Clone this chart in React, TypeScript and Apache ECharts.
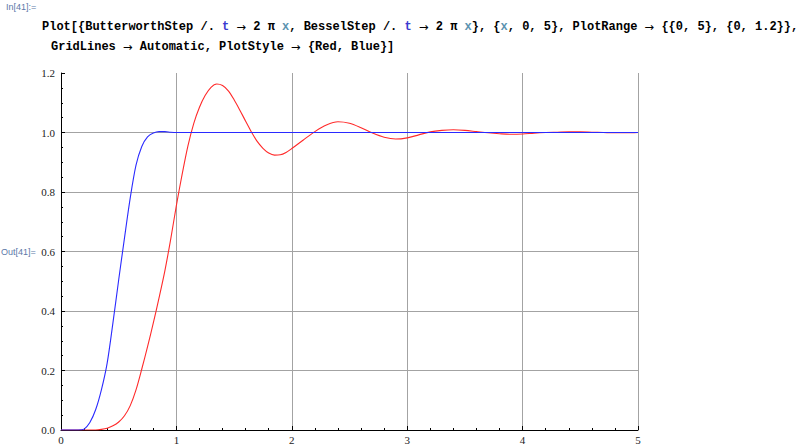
import React, { useEffect, useRef } from "react";
import * as echarts from "echarts";

// ButterworthStep (red)
const redX = [0, 0.2, 0.3, 0.35, 0.4, 0.45, 0.5, 0.55, 0.6, 0.65, 0.7, 0.75, 0.8, 0.85, 0.9, 0.95, 1.0, 1.05, 1.1, 1.15, 1.2, 1.25, 1.3, 1.35, 1.4, 1.45, 1.5, 1.55, 1.6, 1.65, 1.7, 1.75, 1.8, 1.85, 1.9, 1.95, 2.0, 2.1, 2.2, 2.3, 2.4, 2.5, 2.6, 2.7, 2.8, 2.9, 3.0, 3.1, 3.2, 3.3, 3.4, 3.5, 3.6, 3.7, 3.8, 3.9, 4.0, 4.1, 4.2, 4.3, 4.4, 4.5, 4.6, 4.7, 4.8, 4.9, 5.0];
const redY = [0, 0, 0, 0.002, 0.006, 0.014, 0.027, 0.048, 0.082, 0.135, 0.205, 0.28, 0.36, 0.445, 0.535, 0.64, 0.755, 0.86, 0.955, 1.03, 1.085, 1.125, 1.152, 1.163, 1.158, 1.14, 1.11, 1.075, 1.038, 1.002, 0.97, 0.947, 0.931, 0.924, 0.925, 0.933, 0.946, 0.975, 1.003, 1.025, 1.036, 1.031, 1.016, 0.998, 0.984, 0.978, 0.982, 0.992, 1.002, 1.007, 1.009, 1.007, 1.003, 0.999, 0.996, 0.994, 0.995, 0.998, 1.0, 1.001, 1.002, 1.002, 1.001, 1.0, 0.999, 0.999, 1.0];

// BesselStep (blue)
const blueX = [0, 0.1, 0.15, 0.2, 0.25, 0.3, 0.35, 0.4, 0.45, 0.5, 0.55, 0.6, 0.65, 0.7, 0.75, 0.8, 0.85, 0.9, 0.95, 1.0, 1.5, 2.0, 2.5, 3.0, 3.5, 4.0, 4.5, 5.0];
const blueY = [0, 0, 0, 0.003, 0.025, 0.068, 0.135, 0.225, 0.36, 0.505, 0.645, 0.78, 0.89, 0.953, 0.985, 0.998, 1.003, 1.003, 1.001, 1.0, 1.0, 1.0, 1.0, 1.0, 1.0, 1.0, 1.0, 1.0];

const xTickLabels = ["0", "1", "2", "3", "4", "5"];
const yTickLabels = ["0.0", "0.2", "0.4", "0.6", "0.8", "1.0", "1.2"];

const inLabel = "In[41]:=";
const outLabel = "Out[41]=";
const codeLine1 = "Plot[{ButterworthStep /. {t|t} {a|→} 2 π {v|x}, BesselStep /. {t|t} {a|→} 2 π {v|x}}, {{v|x}, 0, 5}, PlotRange {a|→} {{0, 5}, {0, 1.2}},";
const codeLine2 = "GridLines {a|→} Automatic, PlotStyle {a|→} {Red, Blue}]";

const mono = "'Liberation Mono', 'DejaVu Sans Mono', monospace";
const serif = "'Liberation Serif', 'DejaVu Serif', serif";
const sans = "Arial, 'Liberation Sans', sans-serif";

const richStyles = {
  t: { fill: "#3a3ad0", fontFamily: mono, fontWeight: "bold", fontSize: 12 },
  v: { fill: "#5c93b0", fontFamily: mono, fontWeight: "bold", fontSize: 12 },
  a: { fill: "#000", fontFamily: "'DejaVu Sans', sans-serif", fontWeight: "normal", fontSize: 11.5 },
};

export default function App() {
  const ref = useRef<HTMLDivElement>(null);
  useEffect(() => {
    if (!ref.current) return;
    const chart = echarts.init(ref.current, null, { renderer: "svg" });
    const option = {
      animation: false,
      backgroundColor: "#ffffff",
      grid: { left: 61, right: 162, top: 73, bottom: 17, containLabel: false },
      xAxis: {
        type: "value",
        min: 0,
        max: 5,
        interval: 1,
        axisLine: { show: true, onZero: false, lineStyle: { color: "#000", width: 1 } },
        axisTick: { show: true, inside: true, length: 4, lineStyle: { color: "#000" } },
        minorTick: { show: true, splitNumber: 5, length: 2, lineStyle: { color: "#000" } },
        axisLabel: {
          color: "#222",
          fontFamily: serif,
          fontSize: 11,
          margin: 4,
          formatter: (v: number) => xTickLabels[Math.round(v)] ?? "",
        },
        splitLine: { show: true, showMinLine: false, lineStyle: { color: "#a3a3a3", width: 1 } },
      },
      yAxis: {
        type: "value",
        min: 0,
        max: 1.2,
        interval: 0.2,
        axisLine: { show: true, onZero: false, lineStyle: { color: "#000", width: 1 } },
        axisTick: { show: true, inside: true, length: 4, lineStyle: { color: "#000" } },
        minorTick: { show: true, splitNumber: 4, length: 2, lineStyle: { color: "#000" } },
        axisLabel: {
          color: "#222",
          fontFamily: serif,
          fontSize: 11,
          margin: 6,
          formatter: (v: number) => yTickLabels[Math.round(v / 0.2)] ?? "",
        },
        splitLine: { show: true, showMinLine: false, showMaxLine: false, lineStyle: { color: "#a3a3a3", width: 1 } },
      },
      series: [
        {
          name: "ButterworthStep",
          type: "line",
          data: redX.map((x, i) => [x, redY[i]]),
          showSymbol: false,
          smooth: 0.3,
          lineStyle: { color: "#ff2a2a", width: 1.1 },
          itemStyle: { color: "#ff2a2a" },
        },
        {
          name: "BesselStep",
          type: "line",
          data: blueX.map((x, i) => [x, blueY[i]]),
          showSymbol: false,
          smooth: 0.3,
          lineStyle: { color: "#2a2aff", width: 1.1 },
          itemStyle: { color: "#2a2aff" },
        },
      ],
      graphic: [
        {
          type: "text",
          left: 6,
          top: 2,
          style: { text: inLabel, fill: "#5b78a8", fontFamily: sans, fontSize: 9 },
        },
        {
          type: "text",
          x: 42,
          y: 27,
          style: {
            text: codeLine1,
            fill: "#000",
            fontFamily: mono,
            fontWeight: "bold",
            fontSize: 12,
            verticalAlign: "middle",
            rich: richStyles,
          },
        },
        {
          type: "text",
          x: 51,
          y: 47,
          style: {
            text: codeLine2,
            fill: "#000",
            fontFamily: mono,
            fontWeight: "bold",
            fontSize: 12,
            verticalAlign: "middle",
            rich: richStyles,
          },
        },
        {
          type: "text",
          x: 1,
          y: 252,
          style: { text: outLabel, fill: "#5b78a8", fontFamily: sans, fontSize: 9, verticalAlign: "middle" },
        },
      ],
    };
    chart.setOption(option as any);
    return () => chart.dispose();
  }, []);
  return (
    <div
      ref={ref}
      style={{ position: "fixed", left: 0, top: 0, width: 800, height: 447, background: "#fff" }}
    />
  );
}
